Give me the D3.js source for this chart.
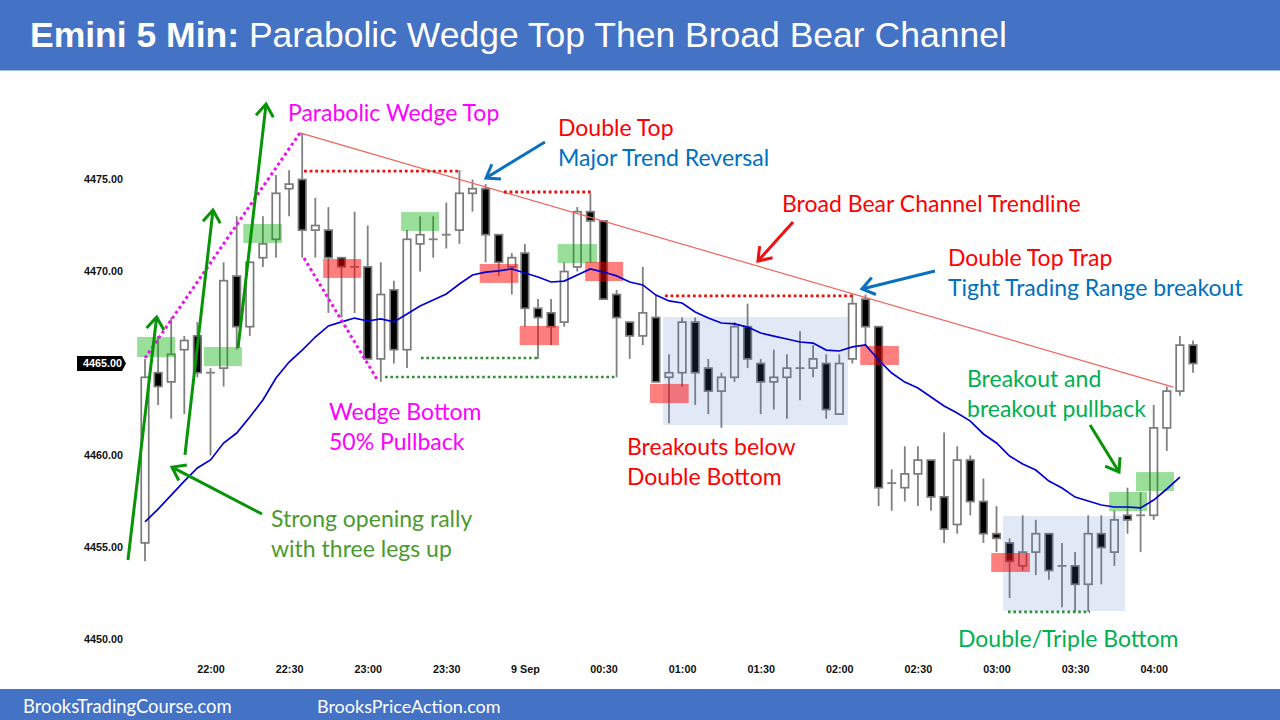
<!DOCTYPE html>
<html>
<head>
<meta charset="utf-8">
<script src="https://cdn.jsdelivr.net/npm/d3@7"></script>
<style>
  html, body { margin: 0; padding: 0; background: #fff; }
  svg { display: block; }
</style>
</head>
<body>
<div id="chart"></div>
<script>
//data (one entry per 5 min bar)
const opens = [4455.25,4464.5,4464,4465.75,4466.5,4464.5,4464.75,4469.75,4467,4470.75,
  4471.75,4474.5,4475,4472.25,4472.25,4470.75,4470.25,4470.25,4465.25,4469,
  4465.75,4471.5,4471.75,4472,4472.25,4474.25,4474.5,4472,4470.25,4471,
  4468,4467.75,4467.25,4470.25,4473.25,4472.75,4468.75,4467.25,4466.5,4467.5,
  4464.25,4464.5,4467.25,4464.75,4463.5,4464.25,4467,4465,4464,4464.25,
  4464.75,4464.75,4465,4462.25,4465.25,4468.5,4467,4458.5,4458.25,4459,
  4459.75,4457.75,4456.25,4459.75,4457.5,4455.75,4455.25,4454,4454.75,4455.75,
  4454,4454,4453,4455.75,4454.75,4456.75,4456.75,4456.75,4461.5,4463.5,4466];
const closes = [4464.25,4463.75,4465.5,4466.25,4464.5,4464.5,4469.5,4467,4470.5,4471.5,
  4474.25,4474.75,4472.25,4472.5,4470.75,4470.25,4470.25,4465.25,4468.75,4465.75,
  4471.75,4472,4471.75,4472,4474.25,4474.5,4472,4470.5,4470.75,4468,
  4467.5,4467,4470,4473.25,4472.75,4468.5,4467.5,4466.5,4467.75,4464,
  4464.5,4467.25,4464.5,4463.5,4464.25,4467,4465.25,4464,4464.25,4464.75,
  4464.75,4465.25,4462.5,4465,4468.25,4467,4458.25,4458.5,4459,4459.75,
  4457.75,4456,4459.75,4457.5,4455.75,4455.5,4454.25,4454.75,4455.75,4453.75,
  4454,4453,4455.75,4455,4456.5,4456.5,4456.75,4461.5,4463.5,4466,4465];
const highs = [4465.25,4466.5,4467.5,4466.5,4467.25,4464.75,4470.5,4473,4470.5,4473,
  4475.25,4475.5,4477.5,4474,4473.5,4470.75,4473.25,4472.5,4470.5,4469.5,
  4472.25,4473,4473,4473.75,4475.5,4475,4474.75,4472,4471,4471.5,
  4468.5,4468.5,4470.5,4473.5,4474.25,4472.75,4469,4467.25,4470.25,4468.75,
  4465.5,4467.5,4467.5,4465.25,4464.5,4467.25,4468.25,4465.25,4465.75,4465.5,
  4466.75,4466,4465.5,4465.5,4468.75,4468.75,4467,4459.25,4460.5,4460.5,
  4459.75,4461.25,4460.5,4460,4458.75,4457.25,4455.5,4456.75,4456.5,4455.75,
  4455.25,4454.75,4456.75,4456.75,4457,4458.25,4458,4462.75,4463.75,4466.5,4466.25];
const lows = [4454.25,4462.75,4462,4462.25,4464.25,4460,4463.75,4465.75,4466.5,4470.25,
  4470.75,4473,4470.75,4470.75,4467.75,4467.5,4467.75,4465.25,4464,4465,
  4464.75,4470,4470.75,4471.25,4471.5,4473.25,4470.5,4469.75,4468.75,4467,
  4465.25,4466,4467,4470,4470.5,4468.5,4464.25,4465.25,4466,4464,
  4461.75,4463.75,4462.75,4462.25,4461.5,4464,4464.75,4462.25,4462.5,4462,
  4463,4464.25,4462,4462.25,4465,4466,4457.25,4457,4457.5,4457.25,
  4457,4455.25,4455.75,4456.75,4455.25,4454.75,4452.25,4453.75,4453.5,4453.25,
  4451.75,4451.5,4451.5,4453,4454,4455.75,4454.75,4456.5,4460.25,4463.25,4464.5];
const ema = [4456.39,4457.09,4457.85,4458.61,4459.32,4459.76,4460.68,4461.22,4462.09,4463.02,
  4464.21,4465.08,4465.73,4466.44,4467.04,4467.26,4467.47,4467.31,4467.42,4467.26,
  4467.69,4468.12,4468.45,4468.78,4469.32,4469.81,4469.97,4470.03,4470.14,4469.92,
  4469.70,4469.43,4469.48,4469.81,4470.14,4469.97,4469.76,4469.43,4469.27,4468.72,
  4468.40,4468.29,4467.80,4467.47,4467.20,4467.15,4466.98,4466.66,4466.49,4466.33,
  4466.17,4466.11,4465.73,4465.68,4465.90,4466.01,4465.19,4464.48,4463.99,4463.67,
  4463.18,4462.69,4462.31,4461.87,4461.17,4460.68,4459.97,4459.54,4459.21,4458.61,
  4458.23,4457.74,4457.53,4457.31,4457.20,4457.20,4457.15,4457.58,4458.18,4458.83];

const priceTicks = [4450,4455,4460,4465,4470,4475];
const timeTickBars = [5,11,17,23,29,35,41,47,53,59,65,71,77];
const timeTickLabels = ["22:00","22:30","23:00","23:30","9 Sep","00:30","01:00","01:30","02:00","02:30","03:00","03:30","04:00"];
const lastPrice = 4465;

//annotation shapes, [bar from, bar to, price top, price bottom]
const greenZones = [[-0.6,2.3,4466.44,4465.35],[4.5,7.4,4465.9,4464.86],[7.5,10.45,4472.58,4471.55],
  [19.55,22.45,4473.23,4472.2],[31.5,34.5,4471.49,4470.46],[73.6,76.5,4458.02,4456.98],[75.65,78.55,4459.1,4458.07]];
const redZones = [[13.6,16.5,4470.68,4469.65],[25.55,28.5,4470.41,4469.38],[28.6,31.6,4467.04,4466],
  [33.6,36.5,4470.52,4469.48],[38.55,41.5,4463.89,4462.85],[54.6,57.55,4465.95,4464.92],[64.6,67.55,4454.7,4453.67]];
const blueBoxes = [[39.55,53.65,4467.53,4461.66],[65.5,74.8,4456.71,4451.55]];

//lines, [bar 1, price 1, bar 2, price 2]
const trendline = [11.83,4477.53,78.5,4463.72];
const redDots = [[12.14,4475.46,24.12,4475.46],[27.4,4474.32,34.12,4474.32],[39.69,4468.67,54.05,4468.67]];
const greenDots = [[21.07,4465.3,30,4465.3],[18.32,4464.27,36.03,4464.27],[65.88,4451.5,72.14,4451.5]];
const magentaDots = [[0,4465.3,11.83,4477.53],[12.14,4470.73,17.79,4464.05]];
const greenArrows = [[-1.3,4454.32,0.89,4467.53],[3.05,4460.03,5.19,4473.34],[7.1,4465.84,9.24,4479.1],
  [8.93,4456.82,2.06,4459.37],[72.14,4461.66,74.35,4459.1]];
const blueArrows = [[30.53,4477.04,26.03,4475.08],[60.3,4470.03,54.73,4469.05]];
const redArrows = [[49.47,4472.69,46.79,4470.57]];

const labels = [
  {text:"Parabolic Wedge Top", x:288, y:120.5, color:"#ff00ff"},
  {text:"Double Top", x:558, y:135.5, color:"#ff0000"},
  {text:"Major Trend Reversal", x:558, y:165.5, color:"#0070c0"},
  {text:"Broad Bear Channel Trendline", x:782, y:211.5, color:"#ff0000"},
  {text:"Double Top Trap", x:948, y:265.5, color:"#ff0000"},
  {text:"Tight Trading Range breakout", x:948, y:295.5, color:"#0070c0"},
  {text:"Breakout and", x:967, y:386.5, color:"#00b050"},
  {text:"breakout pullback", x:967, y:416.5, color:"#00b050"},
  {text:"Wedge Bottom", x:329, y:419.5, color:"#ff00ff"},
  {text:"50% Pullback", x:329, y:449.5, color:"#ff00ff"},
  {text:"Breakouts below", x:627, y:454.5, color:"#ff0000"},
  {text:"Double Bottom", x:627, y:484.5, color:"#ff0000"},
  {text:"Strong opening rally", x:271, y:526.5, color:"#4b9a2f"},
  {text:"with three legs up", x:271, y:556.5, color:"#4b9a2f"},
  {text:"Double/Triple Bottom", x:958, y:646.5, color:"#00b050"}
];

//internal variables
var width = 1280;
var height = 720;
var labelFont = "Lato, 'Open Sans', sans-serif";
var tickFont = "'Liberation Sans', Arial, sans-serif";
var barW = 7.5;

const svg = d3.select("#chart").append("svg")
    .attr("width", width)
    .attr("height", height);

//scales, bar number to x and price to y
var xScale = d3.scaleLinear().domain([0,80]).range([145,1193]);
var yScale = d3.scaleLinear().domain([4450,4475]).range([639.5,179.5]);

//header and footer
svg.append("rect").attr("width",width).attr("height",70.5).attr("fill","#4472c4");
svg.append("rect").attr("y",689).attr("width",width).attr("height",31).attr("fill","#4472c4");
const title = svg.append("text").attr("x",30).attr("y",47).attr("fill","#fff")
    .style("font-family",tickFont).style("font-size","35.5px");
title.append("tspan").attr("font-weight","bold").text("Emini 5 Min:");
title.append("tspan").text(" Parabolic Wedge Top Then Broad Bear Channel");
svg.append("text").attr("x",23).attr("y",713).attr("fill","#fff")
    .style("font-family",labelFont).style("font-size","18.4px").text("BrooksTradingCourse.com");
svg.append("text").attr("x",317).attr("y",713).attr("fill","#fff")
    .style("font-family",labelFont).style("font-size","18px").text("BrooksPriceAction.com");

//axes
const yAxis = svg.append("g").attr("transform","translate(127,0)")
    .call(d3.axisLeft(yScale).tickValues(priceTicks).tickSize(0).tickFormat(d3.format(".2f")));
const xAxis = svg.append("g").attr("transform","translate(0,669)")
    .call(d3.axisBottom(xScale).tickValues(timeTickBars).tickSize(0)
      .tickFormat(function(d,i) {return timeTickLabels[i]}));
[yAxis, xAxis].forEach(function(a) {
    a.select(".domain").remove();
    a.selectAll("text").attr("fill","#111")
      .style("font-family",tickFont)
      .style("font-size","10.8px").style("font-weight","bold");
});
yAxis.selectAll("text").attr("dx","-1").attr("dy","0.3em");
xAxis.selectAll("text").attr("y",0).attr("dy","0.33em");
yAxis.selectAll(".tick").filter(function(d) {return d == lastPrice}).remove();

//last price tag
var tagY = yScale(lastPrice);
svg.append("path")
    .attr("d", d3.line()([[77,tagY-7.5],[122,tagY-7.5],[126,tagY],[122,tagY+7.5],[77,tagY+7.5]]))
    .attr("fill","#000");
svg.append("text").attr("x",83).attr("y",tagY+3.7).attr("fill","#fff")
    .style("font-family",tickFont)
    .style("font-size","10.8px").style("font-weight","bold").text(d3.format(".2f")(lastPrice));

//candles, the wick first then the body or doji tick
const candles = svg.append("g").selectAll("g").data(d3.range(opens.length)).enter().append("g");
candles.append("line")
    .attr("x1",function(i) {return xScale(i)})
    .attr("x2",function(i) {return xScale(i)})
    .attr("y1",function(i) {return yScale(highs[i])})
    .attr("y2",function(i) {return yScale(lows[i])})
    .attr("stroke","#808080").attr("stroke-width",1.8);
candles.filter(function(i) {return closes[i] != opens[i]}).append("rect")
    .attr("x",function(i) {return xScale(i)-barW/2})
    .attr("width",barW)
    .attr("y",function(i) {return yScale(Math.max(opens[i],closes[i]))})
    .attr("height",function(i) {return Math.abs(yScale(opens[i])-yScale(closes[i]))})
    .attr("fill",function(i) {return closes[i] > opens[i] ? "#fff" : "#000"})
    .attr("stroke","#7a7a7a")
    .attr("stroke-width",1.7);
candles.filter(function(i) {return closes[i] == opens[i]}).append("line")
    .attr("x1",function(i) {return xScale(i)-barW/2-0.7})
    .attr("x2",function(i) {return xScale(i)+barW/2+0.7})
    .attr("y1",function(i) {return yScale(opens[i])})
    .attr("y2",function(i) {return yScale(opens[i])})
    .attr("stroke","#808080").attr("stroke-width",1.8);

//shaded boxes
function drawZones(rows, fill, opacity) {
    svg.append("g").selectAll("rect").data(rows).enter().append("rect")
        .attr("x",function(d) {return xScale(d[0])})
        .attr("width",function(d) {return xScale(d[1])-xScale(d[0])})
        .attr("y",function(d) {return yScale(d[2])})
        .attr("height",function(d) {return yScale(d[3])-yScale(d[2])})
        .attr("fill",fill).attr("opacity",opacity);
}
drawZones(blueBoxes,"#4472c4",0.16);
drawZones(greenZones,"#00b000",0.4);
drawZones(redZones,"#ff0000",0.5);

//moving average
svg.append("path").datum(ema)
    .attr("d",d3.line().x(function(d,i) {return xScale(i)}).y(function(d) {return yScale(d)}))
    .attr("fill","none").attr("stroke","#0000d0").attr("stroke-width",1.7);

//trendline and dotted levels
function drawLines(rows, color, w, dash) {
    svg.append("g").selectAll("line").data(rows).enter().append("line")
        .attr("x1",function(d) {return xScale(d[0])})
        .attr("y1",function(d) {return yScale(d[1])})
        .attr("x2",function(d) {return xScale(d[2])})
        .attr("y2",function(d) {return yScale(d[3])})
        .attr("stroke",color).attr("stroke-width",w)
        .attr("stroke-dasharray",dash);
}
drawLines([trendline],"#f0655a",1.2,null);
drawLines(redDots,"#e81010",2.8,"2.8,2.8");
drawLines(greenDots,"#2f8f2f",2.6,"2.6,2.8");
drawLines(magentaDots,"#ee11ee",3,"3,3");

//arrows, open heads
function drawArrows(rows, color, w) {
    svg.append("g").selectAll("path").data(rows).enter().append("path")
        .attr("d",function(d) {
            var x1 = xScale(d[0]), y1 = yScale(d[1]), x2 = xScale(d[2]), y2 = yScale(d[3]);
            var a = Math.atan2(y2-y1,x2-x1);
            var h = 15, s = 0.62;
            var p = d3.path();
            p.moveTo(x1,y1);
            p.lineTo(x2,y2);
            p.moveTo(x2-h*Math.cos(a-s),y2-h*Math.sin(a-s));
            p.lineTo(x2,y2);
            p.lineTo(x2-h*Math.cos(a+s),y2-h*Math.sin(a+s));
            return p.toString();
        })
        .attr("fill","none").attr("stroke",color).attr("stroke-width",w);
}
drawArrows(greenArrows,"#079407",3);
drawArrows(blueArrows,"#0a70c0",3);
drawArrows(redArrows,"#ee1111",3);

//callouts
svg.append("g").selectAll("text").data(labels).enter().append("text")
    .attr("x",function(d) {return d.x})
    .attr("y",function(d) {return d.y})
    .attr("fill",function(d) {return d.color})
    .style("font-family",labelFont)
    .style("font-size","23px")
    .text(function(d) {return d.text});
</script>
</body>
</html>
